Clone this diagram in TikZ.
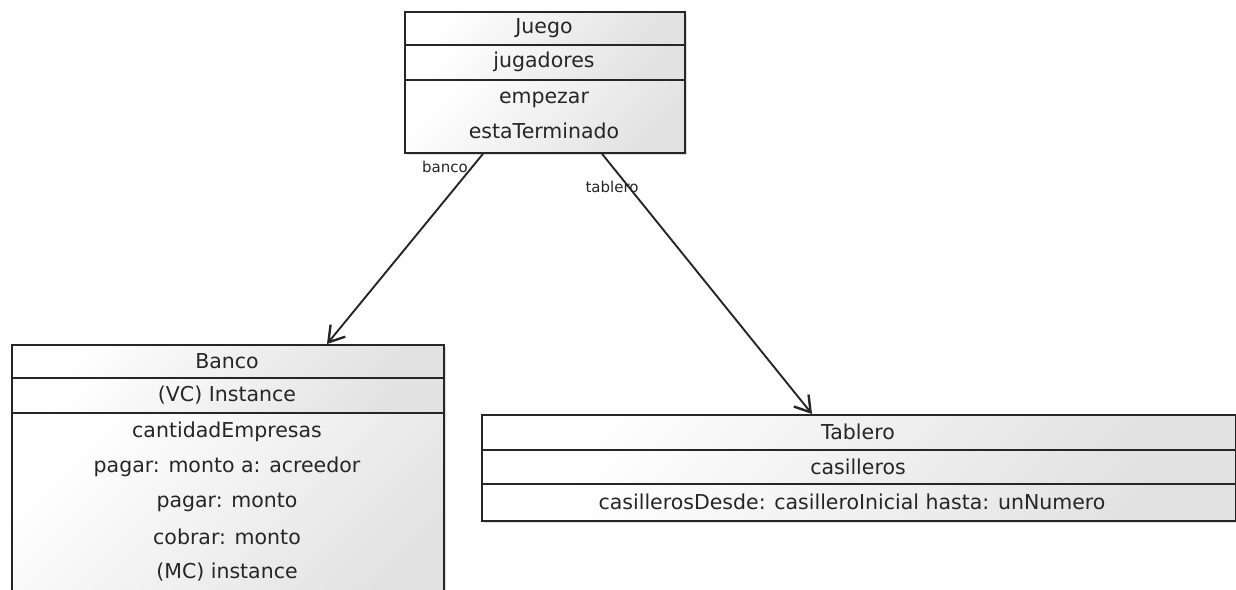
\documentclass[tikz,border=0pt]{standalone}
\usepackage{fontspec}
\setmainfont{DejaVu Sans}
\usetikzlibrary{arrows.meta}
\definecolor{ink}{HTML}{262626}
\definecolor{boxgray}{HTML}{E2E2E2}
\begin{document}
\begin{tikzpicture}[x=1pt,y=-1pt,
  box/.style={draw=ink, line width=1.8pt, rectangle, anchor=north west, inner sep=0pt},
  comp/.style={shading=axis, top color=white, bottom color=boxgray, shading angle=45},
  shadowbox/.style={fill=black, opacity=0.13},
  txt/.style={text=ink, font=\fontsize{20.5}{24}\selectfont, inner sep=0pt},
  lbl/.style={text=ink, font=\fontsize{15}{18}\selectfont, inner sep=0pt},
  sep/.style={draw=ink, line width=1.8pt},
  assoc/.style={draw=ink, line width=1.9pt, -{Straight Barb[length=15pt,width=19pt,line width=2.4pt]}}
]
\useasboundingbox (0,0) rectangle (1236,589);
\clip (0,0) rectangle (1236,589);
% shadows
\fill[shadowbox] (407,14) rectangle (687,155);
\fill[shadowbox] (14,347) rectangle (446,620);
\fill[shadowbox] (484,417) rectangle (1240,523);
% Juego compartments
\shade[comp] (404,11) rectangle (684,45);
\shade[comp] (404,45) rectangle (684,80);
\shade[comp] (404,80) rectangle (684,152);
\node[box, minimum width=280pt, minimum height=141pt] (juego) at (404,11) {};
\draw[sep] (404,45) -- (684,45);
\draw[sep] (404,80) -- (684,80);
\node[txt] (juegoN) at (544,28) {Juego};
\node[txt] (juegoA1) at (544,62) {jugadores};
\node[txt] (juegoM1) at (544,100) {empezar};
\node[txt] (juegoM2) at (544,131) {estaTerminado};
% Banco compartments
\shade[comp] (11,344) rectangle (443,378);
\shade[comp] (11,378) rectangle (443,413);
\shade[comp] (11,413) rectangle (443,617);
\node[box, minimum width=432pt, minimum height=273pt] (banco) at (11,344) {};
\draw[sep] (11,378) -- (443,378);
\draw[sep] (11,413) -- (443,413);
\node[txt] (bancoN) at (227,361) {Banco};
\node[txt] (bancoA1) at (227,395) {(VC) Instance};
\node[txt] (bancoM1) at (227,432) {cantidadEmpresas};
\node[txt] (bancoM2) at (227,467) {pagar: monto a: acreedor};
\node[txt] (bancoM3) at (227,502) {pagar: monto};
\node[txt] (bancoM4) at (227,537) {cobrar: monto};
\node[txt] (bancoM5) at (227,572) {(MC) instance};
% Tablero compartments
\shade[comp] (481,414) rectangle (1235,450);
\shade[comp] (481,450) rectangle (1235,484);
\shade[comp] (481,484) rectangle (1235,520);
\node[box, minimum width=754pt, minimum height=106pt] (tablero) at (481,414) {};
\draw[sep] (481,450) -- (1235,450);
\draw[sep] (481,484) -- (1235,484);
\node[txt] (tableroN) at (858,432) {Tablero};
\node[txt] (tableroA1) at (858,467) {casilleros};
\node[txt] (tableroM1) at (852,502) {casillerosDesde: casilleroInicial hasta: unNumero};
% associations
\draw[assoc] ([xshift=79pt]juego.south west) -- ([xshift=316pt]banco.north west);
\draw[assoc] ([xshift=198pt]juego.south west) -- ([xshift=331pt]tablero.north west);
\node[lbl] (lblBanco) at (445,167) {banco};
\node[lbl] (lblTablero) at (612,187) {tablero};
\end{tikzpicture}
\end{document}
